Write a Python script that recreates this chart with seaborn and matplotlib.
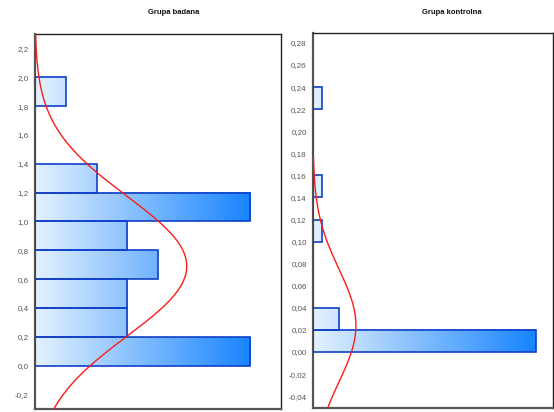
import numpy as np
import pandas as pd
import matplotlib
matplotlib.use("Agg")
import matplotlib.pyplot as plt
from matplotlib.colors import LinearSegmentedColormap
import seaborn as sns

# Grupa badana: bin edges (width 0.2) and counts per bin
study_edges = [0.0, 0.2, 0.4, 0.6, 0.8, 1.0, 1.2, 1.4, 1.6, 1.8, 2.0]
study_counts = [7, 3, 3, 4, 3, 7, 2, 0, 0, 1]
study_fit_mean = 0.69
study_fit_sd = 0.485

# Grupa kontrolna: bin edges (width 0.02) and counts per bin
control_edges = [0.00, 0.02, 0.04, 0.06, 0.08, 0.10, 0.12, 0.14, 0.16,
                 0.18, 0.20, 0.22, 0.24]
control_counts = [26, 3, 0, 0, 0, 1, 0, 1, 0, 0, 0, 1]
control_fit_mean = 0.024
control_fit_sd = 0.051

study_ticks = [-0.2, 0.0, 0.2, 0.4, 0.6, 0.8, 1.0, 1.2, 1.4, 1.6, 1.8, 2.0, 2.2]
control_ticks = [-0.04, -0.02, 0.00, 0.02, 0.04, 0.06, 0.08, 0.10, 0.12,
                 0.14, 0.16, 0.18, 0.20, 0.22, 0.24, 0.26, 0.28]

sns.set_style("white")
plt.rcParams["font.family"] = ["Liberation Sans", "DejaVu Sans"]

grad = LinearSegmentedColormap.from_list("bars", ["#e4f2fd", "#1884ff"])
EDGE = "#1040c8"


def draw_panel(ax, edges, counts, mean, sd, span, ticks, decimals, ylim, xlim):
    edges = [float(e) for e in edges]
    counts = np.asarray(counts, dtype=float)
    mids = [(a + b) / 2 for a, b in zip(edges[:-1], edges[1:])]
    df = pd.DataFrame({"value": mids, "count": counts})
    sns.histplot(data=df, y="value", weights="count", bins=edges, ax=ax,
                 stat="count", element="bars", fill=False, color=EDGE,
                 edgecolor=EDGE, linewidth=1.2, alpha=1.0, zorder=3)
    cmax = counts.max()
    # horizontal gradient fill inside each bar
    for lo, hi, c in zip(edges[:-1], edges[1:], counts):
        if c <= 0:
            continue
        row = np.linspace(0, c / cmax, 256)[None, :]
        ax.imshow(row, cmap=grad, vmin=0, vmax=1, aspect="auto",
                  extent=(0, c, lo, hi), origin="lower",
                  interpolation="bilinear", zorder=2)
    # fitted normal curve, scaled to counts
    n = counts.sum()
    bw = edges[1] - edges[0]
    yy = np.linspace(mean - span * sd, mean + span * sd, 300)
    xx = n * bw * np.exp(-0.5 * ((yy - mean) / sd) ** 2) / (sd * np.sqrt(2 * np.pi))
    ax.plot(xx, yy, color="#ff1a1a", lw=1.0, zorder=4)

    ax.set_xlim(*xlim)
    ax.set_ylim(*ylim)
    ax.set_xticks([])
    ax.set_yticks(ticks)
    ax.set_yticklabels([f"{t:.{decimals}f}".replace(".", ",") for t in ticks])
    ax.tick_params(axis="y", length=0, pad=4.5, labelsize=5.8, labelcolor="#555555")
    ax.set_xlabel("")
    ax.set_ylabel("")
    for side, sp in ax.spines.items():
        sp.set_visible(True)
        sp.set_color("#222222")
        sp.set_linewidth(1.0)
    ax.spines["left"].set_color("#555555")
    ax.spines["left"].set_linewidth(1.6)
    ax.spines["bottom"].set_color("#555555")
    ax.spines["bottom"].set_linewidth(1.6)


fig = plt.figure(figsize=(5.54, 4.12), dpi=100)
ax1 = fig.add_axes([35 / 554, 3 / 412, 246 / 554, 375 / 412])
ax2 = fig.add_axes([313 / 554, 4 / 412, 240 / 554, 375 / 412])

draw_panel(ax1, study_edges, study_counts, study_fit_mean, study_fit_sd, 3.5,
           study_ticks, 1, (-0.3, 2.3), (0, 8))
draw_panel(ax2, control_edges, control_counts, control_fit_mean, control_fit_sd, 3.0,
           control_ticks, 2, (-0.0507, 0.289), (0, 28))

fig.text(174 / 554, 1 - 13 / 412, "Grupa badana", ha="center", va="center",
         fontsize=5.5, fontweight="bold", color="#111111")
fig.text(452 / 554, 1 - 12 / 412, "Grupa kontrolna", ha="center", va="center",
         fontsize=5.5, fontweight="bold", color="#111111")

fig.savefig("out.png", dpi=100)
